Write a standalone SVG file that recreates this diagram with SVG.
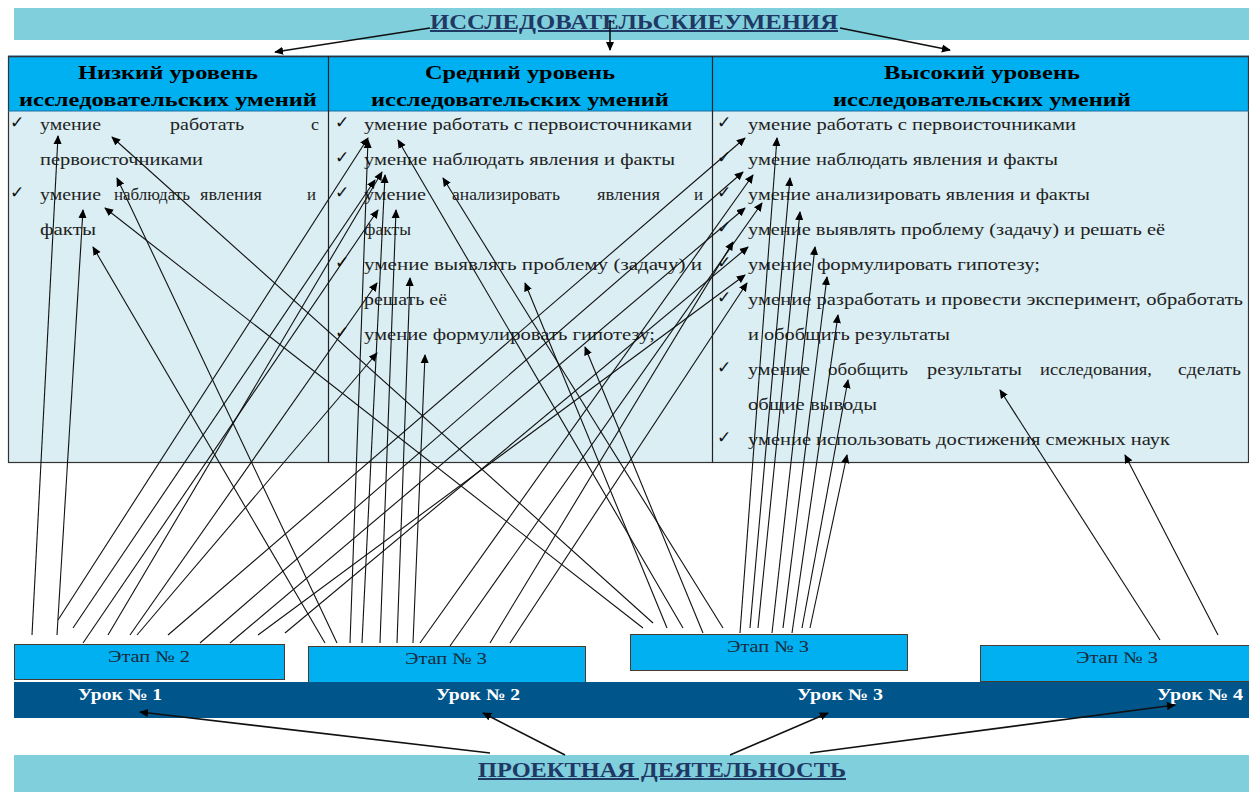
<svg xmlns="http://www.w3.org/2000/svg" width="1249" height="792" viewBox="0 0 1249 792">
<style>
.banner{fill:#7fcfdd}
.title{font-family:"Liberation Serif",serif;font-weight:bold;font-size:20px;fill:#1f3864;text-decoration:underline}
.hdr{font-family:"Liberation Serif",serif;font-weight:bold;font-size:19px;fill:#000;text-anchor:middle}
.t{font-family:"Liberation Serif",serif;font-size:16.5px;fill:#222}
.ck{font-family:"DejaVu Sans",sans-serif;font-size:17px;font-weight:bold;fill:#111}
.etap{fill:#00b0f0;stroke:#4a3a30;stroke-width:1}
.et{font-family:"Liberation Serif",serif;font-size:16px;fill:#1a2a3a}
.ur{font-family:"Liberation Serif",serif;font-weight:bold;font-size:16px;fill:#fff}
.c line{stroke:#111;stroke-width:1.1;marker-end:url(#ah)}
.c .thick{stroke-width:1.6}
</style>
<defs>
<marker id="ah" viewBox="0 0 10 10" refX="9" refY="5" markerWidth="9" markerHeight="9" markerUnits="userSpaceOnUse" orient="auto"><path d="M0,0.5 L10,5 L0,9.5 z" fill="#000"/></marker>
</defs>
<rect width="1249" height="792" fill="#fff"/>

<g id="top-banner">
<rect class="banner" x="14" y="8" width="1235" height="32"/>
<text class="title" x="430" y="29" textLength="408" lengthAdjust="spacingAndGlyphs">ИССЛЕДОВАТЕЛЬСКИЕУМЕНИЯ</text>
</g>

<g id="table">
<rect x="8" y="56" width="1241" height="55" fill="#00b0f0"/>
<rect x="8" y="111" width="1241" height="352" fill="#daeef3"/>
<line x1="8" y1="56.5" x2="1249" y2="56.5" stroke="#1c6ea4" stroke-width="2"/>
<rect x="8.5" y="56.5" width="1240" height="406" fill="none" stroke="#333" stroke-width="1.2"/>
<line x1="8" y1="111" x2="1249" y2="111" stroke="#1c6ea4" stroke-width="1.2"/>
<line x1="328.5" y1="56" x2="328.5" y2="463" stroke="#222" stroke-width="1.2"/>
<line x1="712.5" y1="56" x2="712.5" y2="463" stroke="#222" stroke-width="1.2"/>
</g>

<g id="col-low">
<text class="hdr" x="168" y="79" textLength="180" lengthAdjust="spacingAndGlyphs">Низкий уровень</text>
<text class="hdr" x="168" y="106" textLength="298" lengthAdjust="spacingAndGlyphs">исследовательских умений</text>
<text class="ck" x="10" y="128">✓</text>
<text class="t" x="40" y="130" textLength="61" lengthAdjust="spacingAndGlyphs">умение</text>
<text class="t" x="170" y="130" textLength="74" lengthAdjust="spacingAndGlyphs">работать</text>
<text class="t" x="311" y="130" textLength="8" lengthAdjust="spacingAndGlyphs">с</text>
<text class="t" x="40" y="165" textLength="163" lengthAdjust="spacingAndGlyphs">первоисточниками</text>
<text class="ck" x="10" y="198">✓</text>
<text class="t" x="40" y="200" textLength="61" lengthAdjust="spacingAndGlyphs">умение</text>
<text class="t" x="114" y="200" textLength="76" lengthAdjust="spacingAndGlyphs">наблюдать</text>
<text class="t" x="200" y="200" textLength="62" lengthAdjust="spacingAndGlyphs">явления</text>
<text class="t" x="307" y="200" textLength="9" lengthAdjust="spacingAndGlyphs">и</text>
<text class="t" x="40" y="235" textLength="56" lengthAdjust="spacingAndGlyphs">факты</text>
</g>

<g id="col-mid">
<text class="hdr" x="520" y="79" textLength="190" lengthAdjust="spacingAndGlyphs">Средний уровень</text>
<text class="hdr" x="520" y="106" textLength="298" lengthAdjust="spacingAndGlyphs">исследовательских умений</text>
<text class="ck" x="335" y="128">✓</text>
<text class="t" x="364" y="130" textLength="328" lengthAdjust="spacingAndGlyphs">умение работать с первоисточниками</text>
<text class="ck" x="335" y="163">✓</text>
<text class="t" x="364" y="165" textLength="311" lengthAdjust="spacingAndGlyphs">умение наблюдать явления и факты</text>
<text class="ck" x="335" y="198">✓</text>
<text class="t" x="364" y="200" textLength="62" lengthAdjust="spacingAndGlyphs">умение</text>
<text class="t" x="452" y="200" textLength="108" lengthAdjust="spacingAndGlyphs">анализировать</text>
<text class="t" x="597" y="200" textLength="63" lengthAdjust="spacingAndGlyphs">явления</text>
<text class="t" x="694" y="200" textLength="9" lengthAdjust="spacingAndGlyphs">и</text>
<text class="t" x="364" y="235" textLength="47" lengthAdjust="spacingAndGlyphs">факты</text>
<text class="ck" x="335" y="268">✓</text>
<text class="t" x="364" y="270" textLength="338" lengthAdjust="spacingAndGlyphs">умение выявлять проблему (задачу) и</text>
<text class="t" x="364" y="305" textLength="83" lengthAdjust="spacingAndGlyphs">решать её</text>
<text class="ck" x="335" y="338">✓</text>
<text class="t" x="364" y="340" textLength="291" lengthAdjust="spacingAndGlyphs">умение формулировать гипотезу;</text>
</g>

<g id="col-high">
<text class="hdr" x="982" y="79" textLength="196" lengthAdjust="spacingAndGlyphs">Высокий уровень</text>
<text class="hdr" x="982" y="106" textLength="298" lengthAdjust="spacingAndGlyphs">исследовательских умений</text>
<text class="ck" x="717" y="128">✓</text>
<text class="t" x="748" y="130" textLength="328" lengthAdjust="spacingAndGlyphs">умение работать с первоисточниками</text>
<text class="ck" x="717" y="163">✓</text>
<text class="t" x="748" y="165" textLength="310" lengthAdjust="spacingAndGlyphs">умение наблюдать явления и факты</text>
<text class="ck" x="717" y="198">✓</text>
<text class="t" x="748" y="200" textLength="342" lengthAdjust="spacingAndGlyphs">умение анализировать явления и факты</text>
<text class="ck" x="717" y="233">✓</text>
<text class="t" x="748" y="235" textLength="417" lengthAdjust="spacingAndGlyphs">умение выявлять проблему (задачу) и решать её</text>
<text class="ck" x="717" y="268">✓</text>
<text class="t" x="748" y="270" textLength="292" lengthAdjust="spacingAndGlyphs">умение формулировать гипотезу;</text>
<text class="ck" x="717" y="303">✓</text>
<text class="t" x="748" y="305" textLength="495" lengthAdjust="spacingAndGlyphs">умение разработать и провести эксперимент, обработать</text>
<text class="t" x="748" y="340" textLength="202" lengthAdjust="spacingAndGlyphs">и обобщить результаты</text>
<text class="ck" x="717" y="373">✓</text>
<text class="t" x="748" y="375" textLength="62" lengthAdjust="spacingAndGlyphs">умение</text>
<text class="t" x="828" y="375" textLength="80" lengthAdjust="spacingAndGlyphs">обобщить</text>
<text class="t" x="927" y="375" textLength="95" lengthAdjust="spacingAndGlyphs">результаты</text>
<text class="t" x="1040" y="375" textLength="112" lengthAdjust="spacingAndGlyphs">исследования,</text>
<text class="t" x="1178" y="375" textLength="63" lengthAdjust="spacingAndGlyphs">сделать</text>
<text class="t" x="748" y="410" textLength="129" lengthAdjust="spacingAndGlyphs">общие выводы</text>
<text class="ck" x="717" y="443">✓</text>
<text class="t" x="748" y="445" textLength="422" lengthAdjust="spacingAndGlyphs">умение использовать достижения смежных наук</text>
</g>

<g id="etap-1"><rect class="etap" x="14.5" y="644.5" width="270" height="35"/><text class="et" x="108" y="662" textLength="82" lengthAdjust="spacingAndGlyphs">Этап № 2</text></g>
<g id="etap-2"><rect class="etap" x="308.5" y="646.5" width="277" height="36"/><text class="et" x="405" y="664" textLength="82" lengthAdjust="spacingAndGlyphs">Этап № 3</text></g>
<g id="etap-3"><rect class="etap" x="630.5" y="634.5" width="277" height="36"/><text class="et" x="727" y="652" textLength="82" lengthAdjust="spacingAndGlyphs">Этап № 3</text></g>
<g id="etap-4"><rect class="etap" x="980.5" y="645.5" width="270" height="36"/><text class="et" x="1076" y="663" textLength="82" lengthAdjust="spacingAndGlyphs">Этап № 3</text></g>

<g id="lessons">
<rect x="14" y="682" width="1235" height="36" fill="#00558b"/>
<text class="ur" x="78" y="700" textLength="84" lengthAdjust="spacingAndGlyphs">Урок № 1</text>
<text class="ur" x="436" y="700" textLength="84" lengthAdjust="spacingAndGlyphs">Урок № 2</text>
<text class="ur" x="797" y="700" textLength="86" lengthAdjust="spacingAndGlyphs">Урок № 3</text>
<text class="ur" x="1157" y="700" textLength="86" lengthAdjust="spacingAndGlyphs">Урок № 4</text>
</g>

<g id="bottom-banner">
<rect class="banner" x="14" y="755" width="1235" height="37"/>
<text class="title" x="478" y="777" textLength="368" lengthAdjust="spacingAndGlyphs">ПРОЕКТНАЯ ДЕЯТЕЛЬНОСТЬ</text>
</g>

<g id="connectors" class="c">
<line class="thick" x1="430" y1="28" x2="275" y2="52"/>
<line class="thick" x1="610" y1="20" x2="610" y2="50"/>
<line class="thick" x1="840" y1="28" x2="950" y2="50"/>
<line class="thick" x1="490" y1="753" x2="140" y2="712"/>
<line class="thick" x1="565" y1="755" x2="483" y2="713"/>
<line class="thick" x1="730" y1="755" x2="828" y2="713"/>
<line class="thick" x1="810" y1="753" x2="1175" y2="705"/>

<line x1="32" y1="635" x2="58" y2="136"/>
<line x1="57" y1="635" x2="83" y2="210"/>
<line x1="58" y1="620" x2="368" y2="138"/>
<line x1="73" y1="628" x2="375" y2="180"/>
<line x1="83" y1="643" x2="378" y2="210"/>
<line x1="108" y1="635" x2="382" y2="172"/>
<line x1="130" y1="635" x2="377" y2="283"/>
<line x1="137" y1="635" x2="377" y2="353"/>
<line x1="168" y1="635" x2="745" y2="138"/>
<line x1="200" y1="643" x2="743" y2="172"/>
<line x1="230" y1="643" x2="745" y2="208"/>
<line x1="258" y1="635" x2="745" y2="275"/>
<line x1="285" y1="633" x2="748" y2="247"/>

<line x1="325" y1="643" x2="93" y2="247"/>
<line x1="337" y1="643" x2="117" y2="178"/>
<line x1="350" y1="643" x2="368" y2="140"/>
<line x1="362" y1="643" x2="385" y2="175"/>
<line x1="380" y1="643" x2="396" y2="210"/>
<line x1="397" y1="643" x2="410" y2="278"/>
<line x1="413" y1="643" x2="425" y2="355"/>
<line x1="420" y1="643" x2="753" y2="175"/>
<line x1="450" y1="646" x2="762" y2="203"/>
<line x1="490" y1="643" x2="733" y2="242"/>
<line x1="510" y1="643" x2="747" y2="283"/>

<line x1="643" y1="628" x2="105" y2="208"/>
<line x1="653" y1="623" x2="112" y2="137"/>
<line x1="667" y1="628" x2="525" y2="283"/>
<line x1="683" y1="628" x2="398" y2="140"/>
<line x1="703" y1="633" x2="585" y2="347"/>
<line x1="723" y1="628" x2="443" y2="178"/>

<line x1="740" y1="633" x2="777" y2="138"/>
<line x1="750" y1="628" x2="790" y2="178"/>
<line x1="758" y1="628" x2="800" y2="212"/>
<line x1="772" y1="633" x2="815" y2="247"/>
<line x1="783" y1="628" x2="827" y2="277"/>
<line x1="792" y1="633" x2="838" y2="315"/>
<line x1="802" y1="628" x2="848" y2="380"/>
<line x1="810" y1="628" x2="847" y2="455"/>

<line x1="1160" y1="640" x2="1000" y2="390"/>
<line x1="1218" y1="635" x2="1125" y2="455"/>
</g>
</svg>
